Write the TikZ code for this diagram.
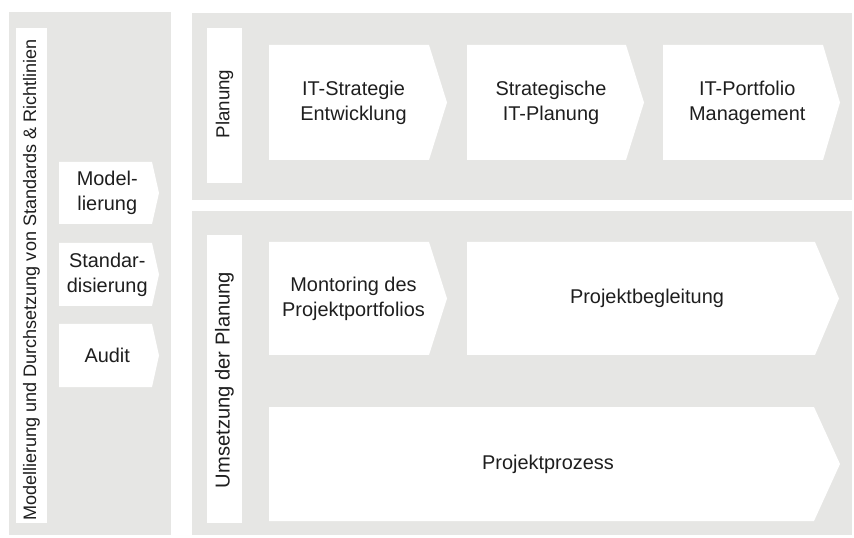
\documentclass[tikz,border=0pt]{standalone}
\usepackage{fontspec}
\setmainfont{Liberation Sans}
\definecolor{panelgray}{HTML}{E6E6E4}
\definecolor{txtdark}{HTML}{1E1E1E}

% white process step with an arrow tip on the right
% #1 name, #2 left, #3 top, #4 body right, #5 bottom, #6 tip length, #7 text
\newcommand{\chevbox}[7]{%
  \fill[white] (#2,#3) -- (#4,#3) -- ({#4+#6},{(#3+#5)/2}) -- (#4,#5) -- (#2,#5) -- cycle;
  \node[steptext] (#1) at ({(#2+#4+#6/2)/2},{(#3+#5)/2}) {#7};
}

\begin{document}
\begin{tikzpicture}[
  x=0.03cm, y=-0.03cm,
  steptext/.style={align=center, text=txtdark, inner sep=0pt,
    font=\fontsize{17}{21.5}\selectfont},
  sidelbl/.style={rotate=90, text=txtdark, inner sep=0pt,
    font=\fontsize{16}{19}\selectfont},
]
\useasboundingbox (0,0) rectangle (854,538);

% ══════════════════════════════════════════════════════
% Panels
% ══════════════════════════════════════════════════════
\fill[panelgray] (9,12) rectangle (171,535);
\fill[panelgray] (192,13) rectangle (852,200);
\fill[panelgray] (192,211) rectangle (852,535);

% ══════════════════════════════════════════════════════
% Side labels
% ══════════════════════════════════════════════════════
\fill[white] (16,28) rectangle (47,523);
\node[sidelbl, font=\fontsize{15.4}{18}\selectfont] (leitlinien) at (31.5,280)
  {Modellierung und Durchsetzung von Standards \& Richtlinien};

\fill[white] (207,28) rectangle (242,183);
\node[sidelbl] (planung) at (224.5,104) {Planung};

\fill[white] (207,235) rectangle (242,523);
\node[sidelbl, font=\fontsize{17.2}{20}\selectfont] (umsetzung) at (224.5,380)
  {Umsetzung der Planung};

% ══════════════════════════════════════════════════════
% Left column steps
% ══════════════════════════════════════════════════════
\chevbox{modell}{59}{162}{152}{224}{7}{Model-\\lierung}
\chevbox{standard}{59}{243}{152}{306}{7}{Standar-\\disierung}
\chevbox{audit}{59}{324}{152}{387}{7}{Audit}

% ══════════════════════════════════════════════════════
% Planning steps
% ══════════════════════════════════════════════════════
\chevbox{strategie}{269}{45}{429}{160}{18}{IT-Strategie\\Entwicklung}
\chevbox{itplanung}{467}{45}{626}{160}{18}{Strategische\\IT-Planung}
\chevbox{portfolio}{663}{45}{823}{160}{17}{IT-Portfolio\\Management}

% ══════════════════════════════════════════════════════
% Implementation steps
% ══════════════════════════════════════════════════════
\chevbox{monitoring}{269}{242}{429}{355}{18}{Montoring des\\Projektportfolios}
\chevbox{begleitung}{467}{242}{815}{355}{24}{Projektbegleitung}
\chevbox{prozess}{269}{407}{814}{521}{26}{Projektprozess}

\end{tikzpicture}
\end{document}
